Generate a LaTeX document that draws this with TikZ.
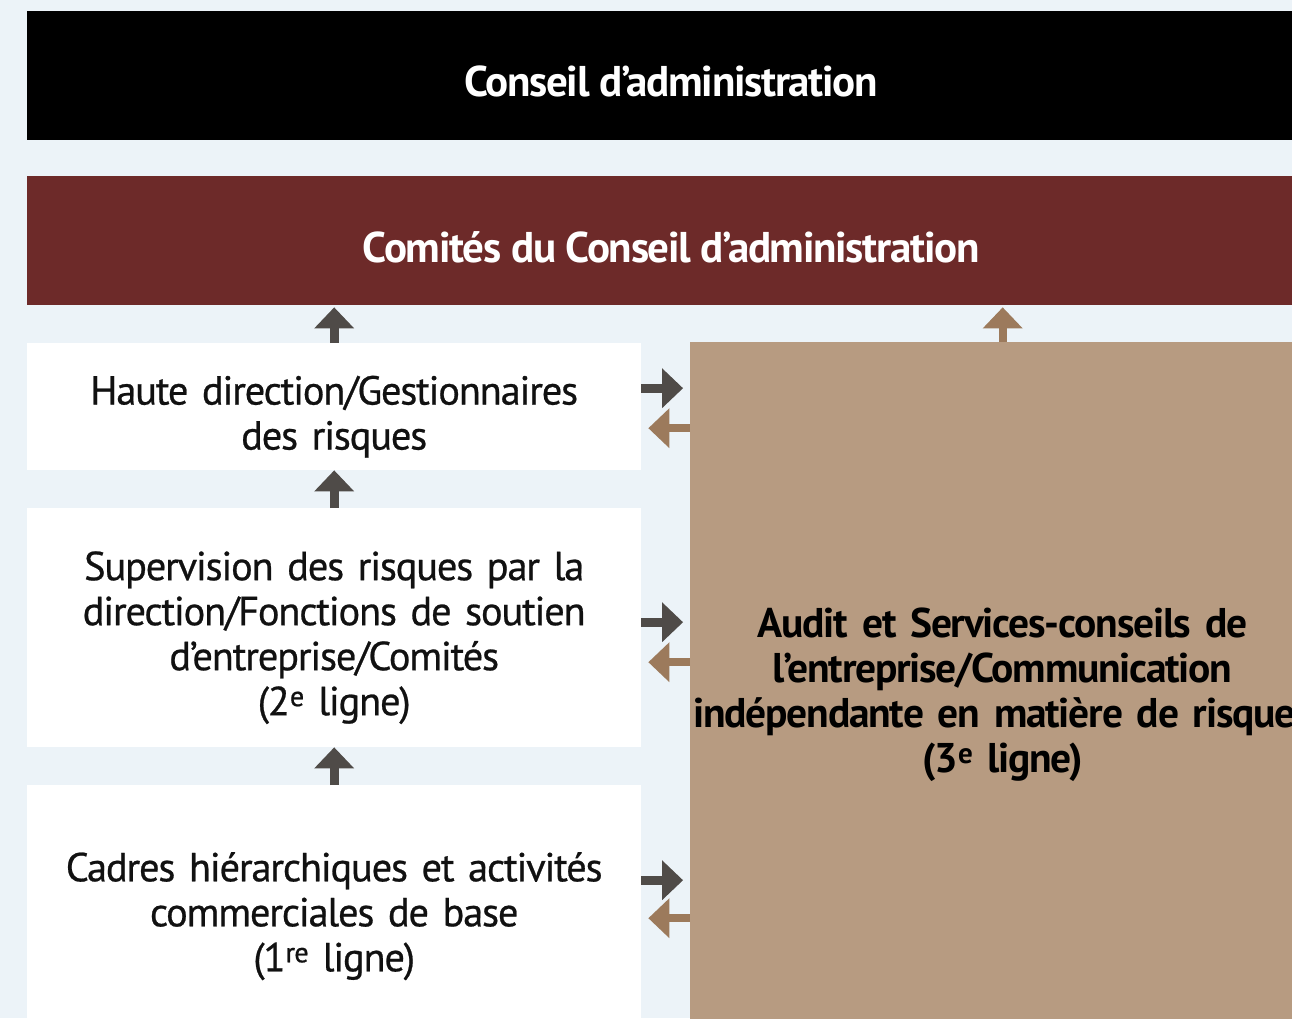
\documentclass[tikz,border=0pt]{standalone}
\usepackage{fontspec}
\setmainfont{PT Sans}[LetterSpace=-3]
\usetikzlibrary{arrows.meta,calc}
\definecolor{bg}{HTML}{ECF3F8}
\definecolor{maroon}{HTML}{6D2A29}
\definecolor{tan}{HTML}{B79B81}
\definecolor{darkarr}{HTML}{4F4B48}
\definecolor{brownarr}{HTML}{9C7A5C}
\definecolor{txt}{HTML}{111111}
\newcommand\myBarFont{\fontsize{43}{45}\selectfont\bfseries}
\newcommand\myWhiteFont{\fontsize{40.5}{45}\selectfont\addfontfeature{FakeBold=0.6}}
\newcommand\myTanFont{\fontsize{41.5}{45}\selectfont\bfseries}
\tikzset{
  bar/.style={anchor=north west, inner sep=0pt, minimum width=1288pt, minimum height=129pt},
  bartext/.style={inner sep=0pt, text=white, font=\myBarFont},
  whitebox/.style={anchor=north west, inner sep=0pt, fill=white, minimum width=614pt},
  whitetext/.style={inner sep=0pt, text width=610pt, align=center, text=txt, font=\myWhiteFont},
  tanbox/.style={anchor=north west, inner sep=0pt, fill=tan, minimum width=625pt},
  tantext/.style={inner sep=0pt, text width=640pt, align=center, text=black, font=\myTanFont},
  darr/.style={draw=darkarr, line width=9pt, -{Triangle[width=40pt,length=21pt,line width=0pt]}},
  barr/.style={draw=brownarr, line width=8pt, -{Triangle[width=40pt,length=21pt,line width=0pt]}}
}
\begin{document}
\begin{tikzpicture}[x=1pt,y=-1pt]
\useasboundingbox (0,0) rectangle (1292,1018);
\fill[bg] (0,0) rectangle (1292,1018);
\node[bar, fill=black] (ca) at (27,11) {};
\node[bartext] (cat) at ($(ca.center)+(0,6)$) {Conseil d’administration};
\node[bar, fill=maroon] (cc) at (27,176) {};
\node[bartext] (cct) at ($(cc.center)+(0,7)$) {Comités du Conseil d’administration};
\node[whitebox, minimum height=127pt] (b1) at (27,343) {};
\node[whitetext] (b1t) at ($(b1.center)+(0,10)$) {Haute direction/Gestionnaires\\des risques};
\node[whitebox, minimum height=239pt] (b2) at (27,508) {};
\node[whitetext] (b2t) at ($(b2.center)+(0,10)$) {Supervision des risques par la\\direction/Fonctions de soutien\\d’entreprise/Comités\\(2\textsuperscript{e} ligne)};
\node[whitebox, minimum height=254pt] (b3) at (27,785) {};
\node[whitetext] (b3t) at ($(b3.center)+(0,4)$) {Cadres hiérarchiques et activités\\commerciales de base\\(1\textsuperscript{re} ligne)};
\node[tanbox, minimum height=697pt] (tb) at (690,342) {};
\node[tantext] (tbt) at ($(tb.center)+(0,4)$) {Audit et Services-conseils de\\l’entreprise/Communication\\indépendante en matière de risques\\(3\textsuperscript{e} ligne)};
% vertical arrows
\draw[darr, shorten >=2pt] (b1.north) -- (b1.north |- cc.south);
\draw[darr] (b2.north) -- (b1.south);
\draw[darr] (b3.north) -- (b2.south);
\draw[barr, shorten >=2pt] (tb.north) -- (tb.north |- cc.south);
% horizontal arrows
\coordinate (r1) at ($(b1.east)+(0,-18.5)$);
\coordinate (l1) at ($(b1.east)+(0,21.5)$);
\coordinate (r2) at ($(b2.east)+(0,-5.5)$);
\coordinate (l2) at ($(b2.east)+(0,34.5)$);
\coordinate (r3) at ($(b3.east)+(0,-32)$);
\coordinate (l3) at ($(b3.east)+(0,6)$);
\foreach \i in {1,2,3}{
  \draw[darr, shorten >=7pt] (r\i) -- (r\i -| tb.west);
  \draw[barr, shorten >=7pt] (l\i -| tb.west) -- (l\i);
}
\end{tikzpicture}
\end{document}
